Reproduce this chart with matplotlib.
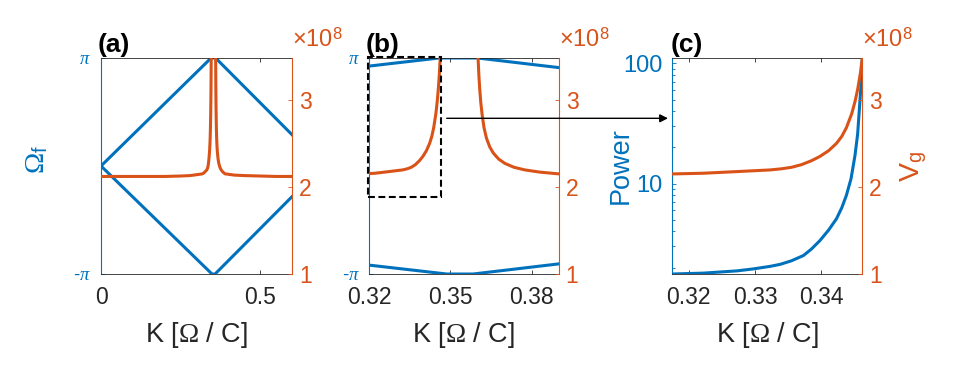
import numpy as np
import matplotlib
matplotlib.use('Agg')
import matplotlib.pyplot as plt
from matplotlib.patches import Rectangle, FancyArrowPatch
from matplotlib.ticker import LogLocator, NullFormatter, FixedLocator

plt.rcParams['font.family'] = ['Liberation Sans', 'DejaVu Sans']
plt.rcParams['mathtext.fontset'] = 'custom'
plt.rcParams['mathtext.rm'] = 'Liberation Serif'
plt.rcParams['mathtext.it'] = 'Liberation Serif:italic'
plt.rcParams['mathtext.sf'] = 'Liberation Sans'

BLUE = '#0072BD'
ORANGE = '#D95319'
DARK = '#262626'

# ---------------- data ----------------
# Floquet frequency branches (Omega_f, radians)
k_upper = [0.0, 0.3458, 0.3600, 0.6]
omega_upper = [0.0, np.pi, np.pi, 0.29 * np.pi]
k_lower = [0.0, 0.3486, 0.3584, 0.6]
omega_lower = [0.0, -np.pi, -np.pi, -0.284 * np.pi]

# group velocity (x1e8), branch left of the gap
k_vg_left = [0.0, 0.05, 0.10, 0.15, 0.20, 0.25, 0.28, 0.30, 0.3175, 0.3222,
             0.3273, 0.3323, 0.3340, 0.3355, 0.3370, 0.3385, 0.3398, 0.3411,
             0.3423, 0.3431, 0.3438, 0.3446, 0.3451, 0.3455, 0.3459, 0.3462]
vg_left = [2.12, 2.12, 2.12, 2.12, 2.12, 2.125, 2.13, 2.14, 2.149, 2.157,
           2.176, 2.195, 2.208, 2.225, 2.255, 2.30, 2.35, 2.415,
           2.50, 2.58, 2.68, 2.84, 2.98, 3.12, 3.30, 3.48]
# group velocity (x1e8), branch right of the gap
k_vg_right = [0.3602, 0.3605, 0.3608, 0.3612, 0.3617, 0.3624, 0.3633, 0.3645,
              0.3658, 0.3678, 0.3701, 0.3735, 0.3775, 0.3830, 0.3898,
              0.42, 0.45, 0.50, 0.55, 0.60]
vg_right = [3.48, 3.28, 3.13, 2.97, 2.83, 2.68, 2.56, 2.46,
            2.39, 2.32, 2.27, 2.225, 2.195, 2.17, 2.15,
            2.135, 2.13, 2.125, 2.12, 2.12]

# power near the band edge
k_power = [0.3175, 0.3222, 0.3273, 0.3297, 0.3323, 0.3338, 0.3355, 0.3373,
           0.3385, 0.3398, 0.3411, 0.3423, 0.3431, 0.3438, 0.3445, 0.3451,
           0.3455, 0.3458, 0.3460, 0.3462]
power = [1.77, 1.80, 1.88, 1.95, 2.05, 2.13, 2.28, 2.52,
         2.85, 3.36, 4.1, 5.1, 6.3, 8.0, 11.0, 17.2,
         26.0, 45.0, 65.0, 111.0]

xticks_a = [0, 0.5]
xticks_b = [0.32, 0.35, 0.38]
xticks_c = [0.32, 0.33, 0.34]
vg_ticks = [1, 2, 3]

# ---------------- figure ----------------
W, H = 971, 368
fig = plt.figure(figsize=(W / 100, H / 100), dpi=100)


def px_axes(l, r, t, b):
    return fig.add_axes([l / W, 1 - b / H, (r - l) / W, (b - t) / H])


LW = 2.2
TICK_FS = 16.5
LABEL_FS = 19.5
PANEL_FS = 19


def style(ax, ax2):
    ax.spines['left'].set_color(BLUE)
    ax.spines['left'].set_linewidth(0.8)
    ax.spines['right'].set_visible(False)
    for s in ('top', 'bottom'):
        ax.spines[s].set_color(DARK)
        ax.spines[s].set_linewidth(0.6)
    for s in ('left', 'top', 'bottom'):
        ax2.spines[s].set_visible(False)
    ax2.spines['right'].set_color(ORANGE)
    ax2.spines['right'].set_linewidth(0.8)
    ax.tick_params(axis='x', which='both', direction='in', top=True, length=3,
                   width=0.6, color=DARK, labelcolor=DARK, labelsize=TICK_FS, pad=9)
    ax.tick_params(axis='y', which='both', direction='in', length=3, width=0.6,
                   color=BLUE, labelcolor=BLUE, pad=7)
    ax2.tick_params(axis='y', which='both', direction='in', length=3, width=0.6,
                    color=ORANGE, labelcolor=ORANGE, labelsize=TICK_FS, pad=5)
    ax2.set_ylim(1, 3.48)
    ax2.set_yticks(vg_ticks)
    ax2.set_yticklabels([str(v) for v in vg_ticks])
    ax.text(1.0, 1.052, '×10$^{\\mathsf{8}}$', transform=ax.transAxes, color=ORANGE,
            fontsize=TICK_FS + 0.5, ha='left', va='baseline')
    ax.text(0.5, -0.313, 'K [$\\Omega$ / C]', transform=ax.transAxes, color=DARK,
            fontsize=LABEL_FS, ha='center', va='baseline')


# ---- panel (a)
axA = px_axes(101, 292, 58, 274)
axA2 = axA.twinx()
style(axA, axA2)
axA.plot(k_upper, omega_upper, color=BLUE, lw=LW)
axA.plot(k_lower, omega_lower, color=BLUE, lw=LW)
axA2.plot(k_vg_left, vg_left, color=ORANGE, lw=LW)
axA2.plot(k_vg_right, vg_right, color=ORANGE, lw=LW)
axA.set_xlim(0, 0.6)
axA.set_ylim(-np.pi, np.pi)
axA.set_xticks(xticks_a)
axA.set_xticklabels(['0', '0.5'])
axA.set_yticks([-np.pi, np.pi])
axA.set_yticklabels(['-$\\pi$', '$\\pi$'], fontsize=13.5)
axA.text(-0.02, 1.029, '(a)', transform=axA.transAxes, fontsize=PANEL_FS,
         fontweight='bold', ha='left', va='baseline')
axA.text(-0.335, 0.528, '$\\Omega_{\\mathsf{f}}$', transform=axA.transAxes, color=BLUE,
         fontsize=LABEL_FS + 1, rotation=90, ha='center', va='center')

# ---- panel (b)
axB = px_axes(369.3, 558.7, 58, 274)
axB2 = axB.twinx()
style(axB, axB2)
axB.plot(k_upper, omega_upper, color=BLUE, lw=LW)
axB.plot(k_lower, omega_lower, color=BLUE, lw=LW)
axB2.plot(k_vg_left, vg_left, color=ORANGE, lw=LW)
axB2.plot(k_vg_right, vg_right, color=ORANGE, lw=LW)
axB.set_xlim(0.32, 0.39)
axB.set_ylim(-np.pi, np.pi)
axB.set_xticks(xticks_b)
axB.set_xticklabels(['0.32', '0.35', '0.38'])
axB.set_yticks([-np.pi, np.pi])
axB.set_yticklabels(['-$\\pi$', '$\\pi$'], fontsize=13.5)
axB.text(-0.018, 1.029, '(b)', transform=axB.transAxes, fontsize=PANEL_FS,
         fontweight='bold', ha='left', va='baseline')
axB2.add_patch(Rectangle((0.3196, 1.888), 0.0269, 1.606, fill=False, ec='black',
                         lw=1.5, ls=(0, (3.3, 1.7)), clip_on=False, zorder=5))

# ---- panel (c)
axC = px_axes(672.3, 862.3, 58, 274)
axC2 = axC.twinx()
style(axC, axC2)
axC.plot(k_power, power, color=BLUE, lw=LW)
axC2.plot(k_vg_left, vg_left, color=ORANGE, lw=LW)
axC.set_yscale('log')
axC.set_xlim(0.3175, 0.3462)
axC.set_ylim(1.77, 111)
axC.set_xticks(xticks_c)
axC.set_xticklabels(['0.32', '0.33', '0.34'])
axC.yaxis.set_major_locator(FixedLocator([10, 100]))
axC.set_yticklabels(['10', '100'], fontsize=17)
axC.yaxis.set_minor_locator(LogLocator(base=10, subs=np.arange(2, 10)))
axC.yaxis.set_minor_formatter(NullFormatter())
axC.tick_params(axis='y', which='minor', length=2)
axC.text(-0.01, 1.029, '(c)', transform=axC.transAxes, fontsize=PANEL_FS,
         fontweight='bold', ha='left', va='baseline')
axC.text(-0.27, 0.5, 'Power', transform=axC.transAxes, color=BLUE,
         fontsize=LABEL_FS, rotation=90, ha='center', va='center')
axC.text(1.272, 0.497, 'V$_{\\mathsf{g}}$', transform=axC.transAxes, color=ORANGE,
         fontsize=LABEL_FS + 1, rotation=90, ha='center', va='center')

# ---- arrow from (b) inset box to (c)
fig.add_artist(FancyArrowPatch(
    (446.7 / W, 1 - 118.3 / H), (668 / W, 1 - 118.3 / H),
    transform=fig.transFigure, arrowstyle='-|>', mutation_scale=12,
    color='black', lw=1.0, shrinkA=0, shrinkB=0))

fig.savefig('out.png', dpi=100)
